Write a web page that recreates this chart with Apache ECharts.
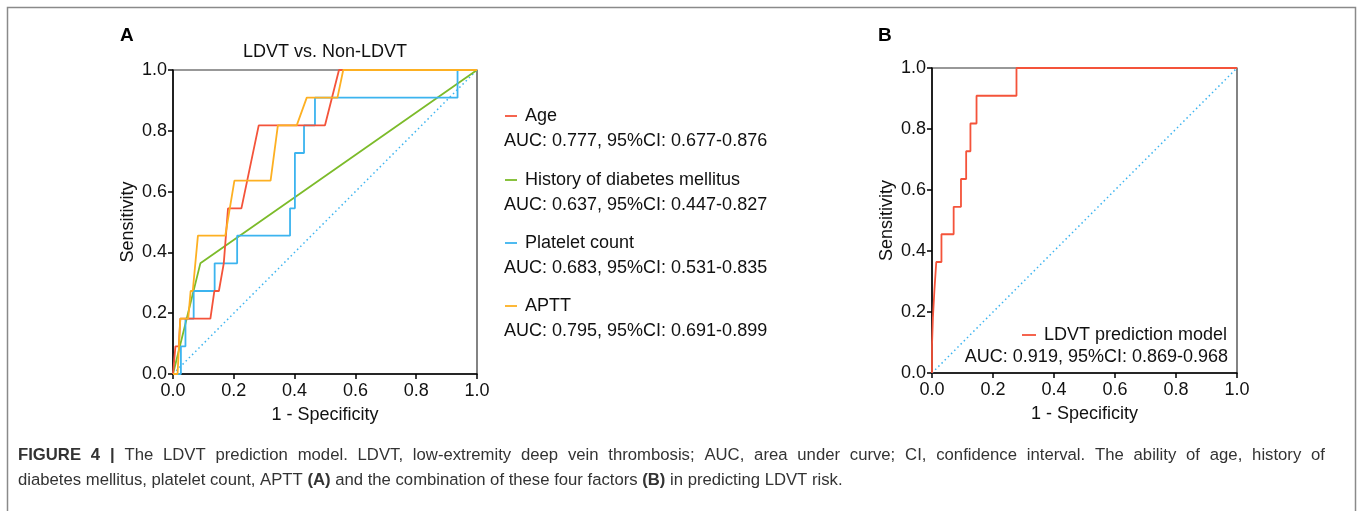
<!DOCTYPE html>
<html><head><meta charset="utf-8">
<script src="https://cdn.jsdelivr.net/npm/echarts@6/dist/echarts.min.js"></script>
<style>html,body{margin:0;padding:0;background:#fff;}#c{width:1358px;height:511px;}</style>
</head><body><div id="c"></div>
<script>
// ---- Data ----
const ticks = [0.0, 0.2, 0.4, 0.6, 0.8, 1.0];
const ageFPR = [0, 0.008, 0.019, 0.024, 0.123, 0.136, 0.151, 0.167, 0.181, 0.225, 0.282, 0.5, 0.546, 1];
const ageTPR = [0, 0.091, 0.091, 0.182, 0.182, 0.273, 0.273, 0.364, 0.545, 0.545, 0.818, 0.818, 1, 1];
const dmFPR = [0, 0.09, 1];
const dmTPR = [0, 0.364, 1];
const pltFPR = [0, 0.026, 0.026, 0.041, 0.041, 0.068, 0.068, 0.137, 0.137, 0.211, 0.211, 0.385, 0.385, 0.401, 0.401, 0.431, 0.431, 0.467, 0.467, 0.936, 0.936, 1];
const pltTPR = [0, 0, 0.091, 0.091, 0.182, 0.182, 0.273, 0.273, 0.364, 0.364, 0.455, 0.455, 0.545, 0.545, 0.727, 0.727, 0.818, 0.818, 0.909, 0.909, 1, 1];
const apttFPR = [0, 0.015, 0.024, 0.05, 0.058, 0.065, 0.082, 0.172, 0.202, 0.321, 0.345, 0.407, 0.44, 0.541, 0.56, 1];
const apttTPR = [0, 0, 0.182, 0.182, 0.273, 0.273, 0.455, 0.455, 0.636, 0.636, 0.818, 0.818, 0.909, 0.909, 1, 1];
const modelFPR = [0, 0, 0.003, 0.003, 0.008, 0.008, 0.014, 0.014, 0.031, 0.031, 0.071, 0.071, 0.095, 0.095, 0.112, 0.112, 0.126, 0.126, 0.146, 0.146, 0.277, 0.277, 1];
const modelTPR = [0, 0.091, 0.091, 0.182, 0.182, 0.273, 0.273, 0.364, 0.364, 0.455, 0.455, 0.545, 0.545, 0.636, 0.636, 0.727, 0.727, 0.818, 0.818, 0.909, 0.909, 1, 1];
const refFPR = [0, 1];
const refTPR = [0, 1];
const seriesNamesA = ['Age', 'History of diabetes mellitus', 'Platelet count', 'APTT'];
const aucTextsA = ['AUC: 0.777, 95%CI: 0.677-0.876', 'AUC: 0.637, 95%CI: 0.447-0.827', 'AUC: 0.683, 95%CI: 0.531-0.835', 'AUC: 0.795, 95%CI: 0.691-0.899'];
const seriesNameB = 'LDVT prediction model';
const aucTextB = 'AUC: 0.919, 95%CI: 0.869-0.968';
const titleA = 'LDVT vs. Non-LDVT';
const xName = '1 - Specificity';
const yName = 'Sensitivity';
const captionBold1 = 'FIGURE 4 |';
const captionLine1 = 'The LDVT prediction model. LDVT, low-extremity deep vein thrombosis; AUC, area under curve; CI, confidence interval. The ability of age, history of';
const captionLine2 = 'diabetes mellitus, platelet count, APTT {b|(A)} and the combination of these four factors {b|(B)} in predicting LDVT risk.';

// ---- Styles ----
const FONT = '"Liberation Sans", Arial, Helvetica, sans-serif';
const CAP_SIZE = 16.7;
const C_RED = '#f4533a', C_GREEN = '#7cbb2a', C_BLUE = '#3cb4ef', C_ORANGE = '#fdb022';
const zip = (a, b) => a.map((v, i) => [v, b[i]]);

function xAxis(gi) {
  return {
    type: 'value', gridIndex: gi, min: 0, max: 1, interval: 0.2,
    name: xName, nameLocation: 'middle', nameGap: 32,
    nameTextStyle: { fontFamily: FONT, fontSize: 18, color: '#111' },
    axisLine: { show: true, onZero: false, lineStyle: { color: '#000', width: 1.5 } },
    axisTick: { show: true, inside: false, length: 5, lineStyle: { color: '#000', width: 1.5 } },
    axisLabel: { fontFamily: FONT, fontSize: 18, color: '#111', margin: 8, formatter: v => v.toFixed(1) },
    splitLine: { show: false }
  };
}
function yAxis(gi) {
  return {
    type: 'value', gridIndex: gi, min: 0, max: 1, interval: 0.2,
    name: yName, nameLocation: 'middle', nameGap: 36, nameRotate: 90,
    nameTextStyle: { fontFamily: FONT, fontSize: 18, color: '#111' },
    axisLine: { show: true, onZero: false, lineStyle: { color: '#000', width: 1.5 } },
    axisTick: { show: true, inside: false, length: 5, lineStyle: { color: '#000', width: 1.5 } },
    axisLabel: { fontFamily: FONT, fontSize: 18, color: '#111', margin: 6, formatter: v => v.toFixed(1) },
    splitLine: { show: false }
  };
}
function line(name, gi, fpr, tpr, color, z) {
  return {
    name, type: 'line', xAxisIndex: gi, yAxisIndex: gi, data: zip(fpr, tpr),
    showSymbol: false, symbol: 'none', animation: false, z: z || 3,
    lineStyle: { color, width: 1.8 }, emphasis: { disabled: true }
  };
}
function refLine(gi) {
  return {
    name: 'ref' + gi, type: 'line', xAxisIndex: gi, yAxisIndex: gi, data: zip(refFPR, refTPR),
    showSymbol: false, symbol: 'none', animation: false, z: 2,
    lineStyle: { color: C_BLUE, width: 1.5, type: [1.5, 3] }
  };
}

const legendColorsA = [C_RED, C_GREEN, C_BLUE, C_ORANGE];
const graphics = [];
graphics.push({ type: 'rect', shape: { x: 7.5, y: 7.5, width: 1348, height: 520 }, style: { fill: 'none', stroke: '#8a8a8a', lineWidth: 1.5 }, silent: true });
graphics.push({ type: 'text', left: 120, top: 26, style: { text: 'A', fontFamily: FONT, fontSize: 19, fontWeight: 'bold', fill: '#000' } });
graphics.push({ type: 'text', left: 878, top: 26, style: { text: 'B', fontFamily: FONT, fontSize: 19, fontWeight: 'bold', fill: '#000' } });
graphics.push({ type: 'text', x: 325, y: 52, style: { text: titleA, fontFamily: FONT, fontSize: 18, fill: '#111', align: 'center', verticalAlign: 'middle' } });
const legY = [116, 180, 243, 306];
seriesNamesA.forEach((n, i) => {
  graphics.push({ type: 'line', shape: { x1: 505, y1: legY[i], x2: 517, y2: legY[i] }, style: { stroke: legendColorsA[i], lineWidth: 1.8 } });
  graphics.push({ type: 'text', x: 525, y: legY[i], style: { text: n, fontFamily: FONT, fontSize: 18, fill: '#111', verticalAlign: 'middle' } });
  graphics.push({ type: 'text', x: 504, y: legY[i] + 25, style: { text: aucTextsA[i], fontFamily: FONT, fontSize: 18, fill: '#111', verticalAlign: 'middle' } });
});
graphics.push({ type: 'line', shape: { x1: 1022, y1: 335, x2: 1036, y2: 335 }, style: { stroke: C_RED, lineWidth: 1.8 } });
graphics.push({ type: 'text', x: 1044, y: 335, style: { text: seriesNameB, fontFamily: FONT, fontSize: 18, fill: '#111', verticalAlign: 'middle' } });
graphics.push({ type: 'text', x: 1228, y: 357, style: { text: aucTextB, fontFamily: FONT, fontSize: 18, fill: '#111', align: 'right', verticalAlign: 'middle' } });

// caption line 1: justified between x=18 and x=1325
(function () {
  const ctx = document.createElement('canvas').getContext('2d');
  const words = captionBold1.split(' ').map(w => ({ w, b: true }))
    .concat(captionLine1.split(' ').map(w => ({ w, b: false })));
  words.forEach(o => {
    ctx.font = (o.b ? 'bold ' : '') + CAP_SIZE + 'px ' + FONT;
    o.width = ctx.measureText(o.w).width;
  });
  const total = words.reduce((s, o) => s + o.width, 0);
  const x0 = 18, x1 = 1325;
  const gap = (x1 - x0 - total) / (words.length - 1);
  let x = x0;
  words.forEach(o => {
    graphics.push({ type: 'text', x: x, y: 455, style: { text: o.w, fontFamily: FONT, fontSize: CAP_SIZE, fontWeight: o.b ? 'bold' : 'normal', fill: '#333', verticalAlign: 'middle' } });
    x += o.width + gap;
  });
})();
graphics.push({ type: 'text', x: 18, y: 480, style: {
  text: captionLine2, fontFamily: FONT, fontSize: CAP_SIZE, fill: '#333', verticalAlign: 'middle',
  rich: { b: { fontWeight: 'bold', fontFamily: FONT, fontSize: CAP_SIZE, fill: '#333' } } } });

const chart = echarts.init(document.getElementById('c'), null, { renderer: 'canvas' });
chart.setOption({
  animation: false,
  backgroundColor: '#fff',
  grid: [
    { left: 173, top: 70, width: 304, height: 304, show: true, borderColor: '#333', borderWidth: 1.2, backgroundColor: 'transparent' },
    { left: 932, top: 68, width: 305, height: 305, show: true, borderColor: '#333', borderWidth: 1.2, backgroundColor: 'transparent' }
  ],
  xAxis: [xAxis(0), xAxis(1)],
  yAxis: [yAxis(0), yAxis(1)],
  series: [
    refLine(0),
    line(seriesNamesA[1], 0, dmFPR, dmTPR, C_GREEN, 3),
    line(seriesNamesA[2], 0, pltFPR, pltTPR, C_BLUE, 4),
    line(seriesNamesA[0], 0, ageFPR, ageTPR, C_RED, 5),
    line(seriesNamesA[3], 0, apttFPR, apttTPR, C_ORANGE, 6),
    refLine(1),
    line(seriesNameB, 1, modelFPR, modelTPR, C_RED, 5)
  ],
  graphic: graphics
});
</script></body></html>
